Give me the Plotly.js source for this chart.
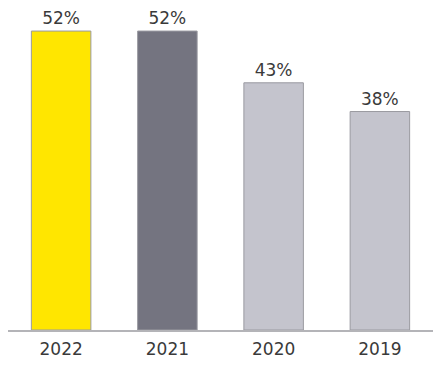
<!DOCTYPE html>
<html><head><meta charset="utf-8">
<script src="https://cdn.plot.ly/plotly-3.0.1.min.js"></script>
<style>html,body{margin:0;padding:0;background:#fff}#chart{width:441px;height:371px}</style>
</head><body><div id="chart"></div>
<script>
var years = ['2022', '2021', '2020', '2019'];
var values = [52, 52, 43, 38];
var labels = ['52%', '52%', '43%', '38%'];
var colors = ['#FFE600', '#747480', '#C4C4CD', '#C4C4CD'];

Plotly.newPlot('chart', [{
  type: 'bar',
  x: years,
  y: values,
  text: labels,
  textposition: 'outside',
  cliponaxis: false,
  textfont: {family: 'DejaVu Sans', size: 17, color: '#3a3a3a'},
  marker: {color: colors, line: {color: '#9a9aa0', width: 1}},
  width: 0.56,
  hoverinfo: 'none'
}], {
  width: 441, height: 371,
  margin: {l: 8, r: 8, t: 0, b: 40.5},
  paper_bgcolor: '#fff', plot_bgcolor: '#fff',
  showlegend: false,
  xaxis: {type: 'category', showline: true, linecolor: '#b4b4b8', linewidth: 1.5,
          ticks: '', showgrid: false, zeroline: false, ticklabelstandoff: 3,
          tickfont: {family: 'DejaVu Sans', size: 17, color: '#3a3a3a'}},
  yaxis: {range: [0, 57.4], visible: false, showgrid: false, zeroline: false}
}, {staticPlot: true, displayModeBar: false});
</script></body></html>
